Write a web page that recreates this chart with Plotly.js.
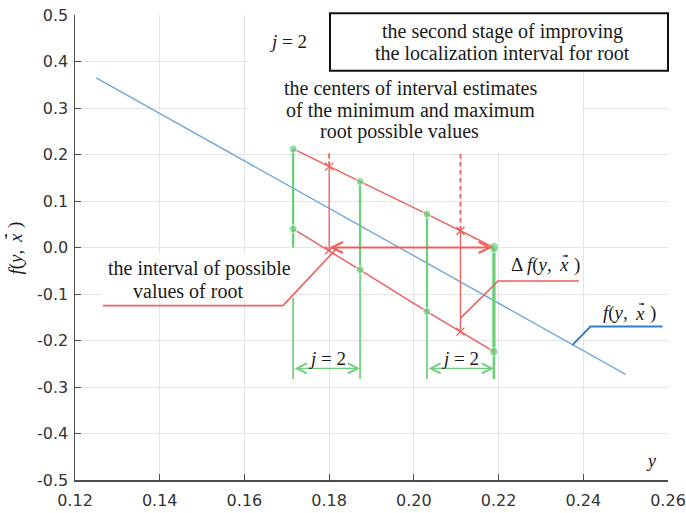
<!DOCTYPE html>
<html>
<head>
<meta charset="utf-8">
<script src="https://cdn.plot.ly/plotly-3.0.1.min.js"></script>
<style>html,body{margin:0;padding:0;background:#fff;}</style>
</head>
<body>
<div id="chart" style="width:686px;height:513px;"></div>
<script>
// ---- data ----
const curveX = [0.125, 0.25];
const curveY = [0.365, -0.273];

const greenX = [0.1715, 0.1873, 0.2031, 0.2189];
const greenTop = [0.212, 0.142, 0.072, 0.0];        // upper interval estimates
const greenBottom = [0.040, -0.048, -0.138, -0.224]; // lower interval estimates
const greenThickEnd = [0.0, -0.048, -0.138, -0.224];
const greenExtTop = [-0.108, -0.048, -0.138, -0.224];
const greenExtBottom = [-0.283, -0.283, -0.283, -0.283];

const centerX = [0.1800, 0.2110];
const centerUpper = [0.174, 0.036];
const centerLower = [-0.006, -0.181];
const dashTop = [0.205, 0.205];

const rootIntervalX = [0.1797, 0.2185];
const rootIntervalY = [0.0, 0.0];
const dimY = -0.26;

const leaderIntervalX = [0.1266, 0.1691, 0.1820];
const leaderIntervalY = [-0.125, -0.125, 0.0];
const leaderDeltaX = [0.2110, 0.2199, 0.2390];
const leaderDeltaY = [-0.152, -0.072, -0.072];
const leaderFX = [0.2374, 0.2417, 0.2587];
const leaderFY = [-0.210, -0.170, -0.170];

const xTicks = [0.12, 0.14, 0.16, 0.18, 0.20, 0.22, 0.24, 0.26];
const xTickText = ['0.12', '0.14', '0.16', '0.18', '0.20', '0.22', '0.24', '0.26'];
const yTicks = [0.5, 0.4, 0.3, 0.2, 0.1, 0.0, -0.1, -0.2, -0.3, -0.4, -0.5];
const yTickText = ['0.5', '0.4', '0.3', '0.2', '0.1', '0.0', '-0.1', '-0.2', '-0.3', '-0.4', '-0.5'];

// ---- styles ----
const RED = '#ef5f5c', GREEN = '#6ccf7c', BLUE = '#6ea8dc', BLUE2 = '#2f7fd1';
const SERIF = 'Liberation Serif, Times New Roman, serif';
const INK = '#1a1a1a';

const traces = [];
function seg(x, y, color, width, dash) {
  traces.push({x: x, y: y, mode: 'lines', type: 'scatter', hoverinfo: 'skip',
    line: {color: color, width: width, dash: dash || 'solid'}, showlegend: false});
}
// blue function
seg(curveX, curveY, BLUE, 1.4);
// green interval lines
greenX.forEach((gx, i) => {
  seg([gx, gx], [greenTop[i], greenThickEnd[i]], GREEN, i === 3 ? 3.3 : 2.3);
  seg([gx, gx], [greenExtTop[i], greenExtBottom[i]], GREEN, i === 3 ? 2.6 : 1.7);
});
// red lines through estimates
seg(greenX, greenTop, RED, 1.4);
seg(greenX, greenBottom, RED, 1.4);
// red center lines
centerX.forEach((cx, i) => {
  seg([cx, cx], [centerUpper[i], centerLower[i]], RED, 1.3);
  seg([cx, cx], [centerUpper[i], dashTop[i]], RED, 1.8, '5px,3px');
});
// leaders
seg(leaderIntervalX, leaderIntervalY, RED, 1.6);
seg(leaderDeltaX, leaderDeltaY, RED, 1.6);
seg(leaderFX, leaderFY, BLUE2, 2);
// green dots
traces.push({x: greenX.concat(greenX), y: greenTop.concat(greenBottom), mode: 'markers', type: 'scatter',
  hoverinfo: 'skip', showlegend: false,
  marker: {color: GREEN, size: [8, 8, 8, 10, 8, 8, 8, 8.5]}});
// red crosses
traces.push({x: centerX.concat(centerX), y: centerUpper.concat(centerLower), mode: 'markers', type: 'scatter',
  hoverinfo: 'skip', showlegend: false,
  marker: {color: RED, symbol: 'x-thin-open', size: 8, line: {color: RED, width: 1.3}}});

function arrow(x0, x1, y, color, width, size) {
  return {x: x1, y: y, ax: x0, ay: y, xref: 'x', yref: 'y', axref: 'x', ayref: 'y',
    text: '', showarrow: true, arrowside: 'end+start', arrowhead: 5, startarrowhead: 5,
    arrowsize: size, startarrowsize: size, arrowwidth: width, arrowcolor: color, standoff: 0, startstandoff: 0};
}
function txt(text, x, y, size, extra) {
  return Object.assign({text: text, x: x, y: y, xref: 'x', yref: 'y', showarrow: false,
    xanchor: 'center', yanchor: 'middle', font: {family: SERIF, size: size || 20, color: INK}}, extra || {});
}
// "f(y, x-vector)" label built from pieces around the x glyph at (x, y)
function fxLabel(prefix, x, y, size, ref, rotated) {
  const base = {x: x, y: y, xref: ref[0], yref: ref[1], showarrow: false,
    font: {family: SERIF, size: size, color: INK}};
  const vec = {x: x, y: y, xref: ref[0], yref: ref[1], text: '', showarrow: true,
    arrowhead: 2, arrowsize: 0.55, arrowwidth: 1, arrowcolor: INK, standoff: 0};
  if (!rotated) {
    return [
      Object.assign({}, base, {text: prefix + '<i>f</i>(<i>y</i>,', xanchor: 'right', yanchor: 'middle', xshift: -10}),
      Object.assign({}, base, {text: '<i>x</i>', xanchor: 'center', yanchor: 'middle'}),
      Object.assign({}, base, {text: ')', xanchor: 'left', yanchor: 'middle', xshift: 8}),
      Object.assign({}, vec, {ax: -7, ay: 0, xshift: 4.5, yshift: 9})
    ];
  }
  return [
    Object.assign({}, base, {text: prefix + '<i>f</i>(<i>y</i>,', textangle: -90, xanchor: 'center', yanchor: 'top', yshift: -10}),
    Object.assign({}, base, {text: '<i>x</i>', textangle: -90, xanchor: 'center', yanchor: 'middle'}),
    Object.assign({}, base, {text: ')', textangle: -90, xanchor: 'center', yanchor: 'bottom', yshift: 8}),
    Object.assign({}, vec, {ax: 0, ay: 7, xshift: -9, yshift: 4.5})
  ];
}

const annotations = [
  arrow(rootIntervalX[0], rootIntervalX[1], rootIntervalY[0], RED, 2, 1.1),
  arrow(greenX[0], greenX[1], dimY, GREEN, 1.4, 1.4),
  arrow(greenX[2], greenX[3], dimY, GREEN, 1.4, 1.4),
  txt('the second stage of improving', 0.2209, 0.4643),
  txt('the localization interval for root', 0.2209, 0.4176),
  txt('the centers of interval estimates', 0.1991, 0.343),
  txt('of the minimum and maximum', 0.1993, 0.2957),
  txt('root possible values', 0.1966, 0.249),
  txt('the interval of possible', 0.1495, -0.0441),
  txt('values of root', 0.1466, -0.0929),
  txt('<i>j</i> = 2', 0.1702, 0.4426, 19),
  txt('<i>j</i> = 2', 0.1794, -0.2383, 19),
  txt('<i>j</i> = 2', 0.2109, -0.2383, 19),
  txt('<i>y</i>', 0.2561, -0.4585, 18)
].concat(
  fxLabel('\u0394 ', 0.2354, -0.0376, 19, ['x', 'y'], false),
  fxLabel('', 0.2534, -0.1409, 19, ['x', 'y'], false),
  fxLabel('', -0.101, 0.5204, 19, ['paper', 'paper'], true)
);

const shapes = [
  {type: 'rect', layer: 'between', xref: 'x', yref: 'y', x0: 0.1607, x1: 0.2397, y0: 0.205, y1: 0.42,
   fillcolor: '#ffffff', line: {width: 0}},
  {type: 'rect', layer: 'between', xref: 'x', yref: 'y', x0: 0.1262, x1: 0.1708, y0: -0.112, y1: -0.012,
   fillcolor: '#ffffff', line: {width: 0}},
  {type: 'rect', layer: 'above', xref: 'paper', yref: 'paper', x0: 0.430, x1: 1.0, y0: 0.8802, y1: 1.0037,
   fillcolor: '#ffffff', line: {color: '#111111', width: 2}}
];

const axisCommon = {showline: true, linecolor: '#4d4d4d', linewidth: 1.5, ticks: 'inside', ticklen: 6,
  tickcolor: '#4d4d4d', tickwidth: 1, showgrid: true, gridcolor: '#e4e4e4', gridwidth: 1, zeroline: false,
  mirror: false, tickfont: {family: 'DejaVu Sans', size: 16, color: '#333333'}, tickmode: 'array'};

const layout = {
  width: 686, height: 513, margin: {l: 75, r: 18, t: 15, b: 33},
  paper_bgcolor: '#ffffff', plot_bgcolor: '#ffffff', showlegend: false,
  xaxis: Object.assign({}, axisCommon, {range: [0.12, 0.26], tickvals: xTicks, ticktext: xTickText, ticklabelstandoff: 5}),
  yaxis: Object.assign({}, axisCommon, {range: [-0.5, 0.5], tickvals: yTicks, ticktext: yTickText, ticklabelstandoff: 2}),
  annotations: annotations, shapes: shapes
};

Plotly.newPlot('chart', traces, layout, {staticPlot: true, displayModeBar: false});
</script>
</body>
</html>
